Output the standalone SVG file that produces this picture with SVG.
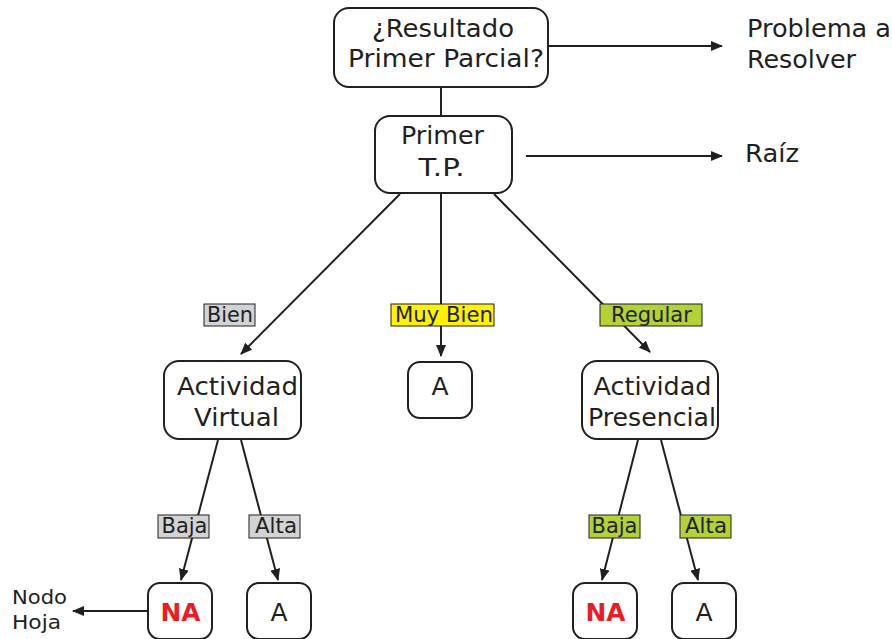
<svg xmlns="http://www.w3.org/2000/svg" width="892" height="639" viewBox="0 0 892 639">
  <defs>
    <marker id="arrow" viewBox="0 0 12 10" refX="11" refY="5" markerWidth="12" markerHeight="10" markerUnits="userSpaceOnUse" orient="auto">
      <path d="M0,0 L12,5 L0,10 Z" fill="#231f20"/>
    </marker>
  </defs>
  <style>
    text { font-family: "DejaVu Sans", Verdana, sans-serif; fill: #231f20; }
    .node rect { fill: #ffffff; stroke: #231f20; stroke-width: 2; }
    .node text { font-size: 25px; text-anchor: middle; }
    .node text.na { fill: #ed1c24; font-weight: bold; }
    .edges line { stroke: #231f20; stroke-width: 2; fill: none; }
    .edges line.arr { marker-end: url(#arrow); }
    .lbl rect { stroke: #231f20; stroke-width: 1; }
    .lbl text { font-size: 20.5px; text-anchor: middle; }
    .gray { fill: #d1d3d4; }
    .yellow { fill: #fff200; }
    .green { fill: #b2d235; }
    .big { font-size: 25px; }
    .small { font-size: 20px; }
  </style>

  <!-- connectors -->
  <g id="edges" class="edges">
    <line x1="441" y1="87" x2="441" y2="116"/>
    <line class="arr" x1="548" y1="46" x2="722" y2="46"/>
    <line class="arr" x1="526" y1="156" x2="722" y2="156"/>
    <line class="arr" x1="400" y1="194" x2="241" y2="354"/>
    <line class="arr" x1="441" y1="194" x2="441" y2="356"/>
    <line class="arr" x1="494" y1="194" x2="650" y2="352"/>
    <line class="arr" x1="218" y1="440" x2="181" y2="580"/>
    <line class="arr" x1="241" y1="440" x2="278" y2="580"/>
    <line class="arr" x1="638" y1="440" x2="602" y2="580"/>
    <line class="arr" x1="661" y1="440" x2="698" y2="580"/>
    <line class="arr" x1="148" y1="611" x2="73" y2="611"/>
  </g>

  <!-- edge labels -->
  <g id="labels" class="lbl">
    <g id="lbl-bien"><rect class="gray" x="204" y="304" width="51" height="22"/><text x="230" y="322" textLength="46" lengthAdjust="spacingAndGlyphs">Bien</text></g>
    <g id="lbl-muybien"><rect class="yellow" x="391" y="304" width="103" height="22"/><text x="444" y="322" textLength="98" lengthAdjust="spacingAndGlyphs">Muy Bien</text></g>
    <g id="lbl-regular"><rect class="green" x="600" y="304" width="102" height="22"/><text x="651.5" y="322" textLength="81" lengthAdjust="spacingAndGlyphs">Regular</text></g>
    <g id="lbl-baja1"><rect class="gray" x="158" y="515" width="51" height="23"/><text x="184.5" y="533" textLength="46" lengthAdjust="spacingAndGlyphs">Baja</text></g>
    <g id="lbl-alta1"><rect class="gray" x="249" y="515" width="51" height="23"/><text x="276" y="533" textLength="42" lengthAdjust="spacingAndGlyphs">Alta</text></g>
    <g id="lbl-baja2"><rect class="green" x="589" y="515" width="51" height="23"/><text x="614.5" y="533" textLength="46" lengthAdjust="spacingAndGlyphs">Baja</text></g>
    <g id="lbl-alta2"><rect class="green" x="680" y="515" width="51" height="23"/><text x="706" y="533" textLength="42" lengthAdjust="spacingAndGlyphs">Alta</text></g>
  </g>

  <!-- nodes -->
  <g id="n-problema" class="node">
    <rect x="334" y="8" width="214" height="79" rx="15"/>
    <text x="443" y="37" textLength="142" lengthAdjust="spacingAndGlyphs">¿Resultado</text>
    <text x="446" y="67" textLength="196" lengthAdjust="spacingAndGlyphs">Primer Parcial?</text>
  </g>
  <g id="n-raiz" class="node">
    <rect x="375" y="116" width="137" height="77" rx="15"/>
    <text x="442.5" y="144" textLength="83" lengthAdjust="spacingAndGlyphs">Primer</text>
    <text x="441.5" y="176" textLength="46" lengthAdjust="spacingAndGlyphs">T.P.</text>
  </g>
  <g id="n-virtual" class="node">
    <rect x="164" y="361" width="137" height="78" rx="15"/>
    <text x="237.5" y="395" textLength="121" lengthAdjust="spacingAndGlyphs">Actividad</text>
    <text x="236.5" y="426" textLength="85" lengthAdjust="spacingAndGlyphs">Virtual</text>
  </g>
  <g id="n-a-mid" class="node">
    <rect x="408" y="362" width="64" height="56" rx="12"/>
    <text x="440" y="395">A</text>
  </g>
  <g id="n-presencial" class="node">
    <rect x="582" y="361" width="136" height="78" rx="15"/>
    <text x="652.5" y="395" textLength="118" lengthAdjust="spacingAndGlyphs">Actividad</text>
    <text x="652" y="426" textLength="128" lengthAdjust="spacingAndGlyphs">Presencial</text>
  </g>
  <g id="n-na1" class="node">
    <rect x="148" y="583" width="64" height="56" rx="12"/>
    <text class="na" x="180.5" y="621" textLength="40" lengthAdjust="spacingAndGlyphs">NA</text>
  </g>
  <g id="n-a1" class="node">
    <rect x="247" y="583" width="64" height="56" rx="12"/>
    <text x="279" y="621">A</text>
  </g>
  <g id="n-na2" class="node">
    <rect x="573" y="583" width="64" height="56" rx="12"/>
    <text class="na" x="605.5" y="621" textLength="40" lengthAdjust="spacingAndGlyphs">NA</text>
  </g>
  <g id="n-a2" class="node">
    <rect x="672" y="583" width="64" height="56" rx="12"/>
    <text x="704" y="621">A</text>
  </g>

  <!-- annotations -->
  <g id="notes">
    <text class="big" x="747" y="37" textLength="144" lengthAdjust="spacingAndGlyphs">Problema a</text>
    <text class="big" x="747" y="68" textLength="109" lengthAdjust="spacingAndGlyphs">Resolver</text>
    <text class="big" x="745" y="162" textLength="54" lengthAdjust="spacingAndGlyphs">Raíz</text>
    <text class="small" x="12" y="604" textLength="55" lengthAdjust="spacingAndGlyphs">Nodo</text>
    <text class="small" x="12" y="629" textLength="49" lengthAdjust="spacingAndGlyphs">Hoja</text>
  </g>
</svg>
